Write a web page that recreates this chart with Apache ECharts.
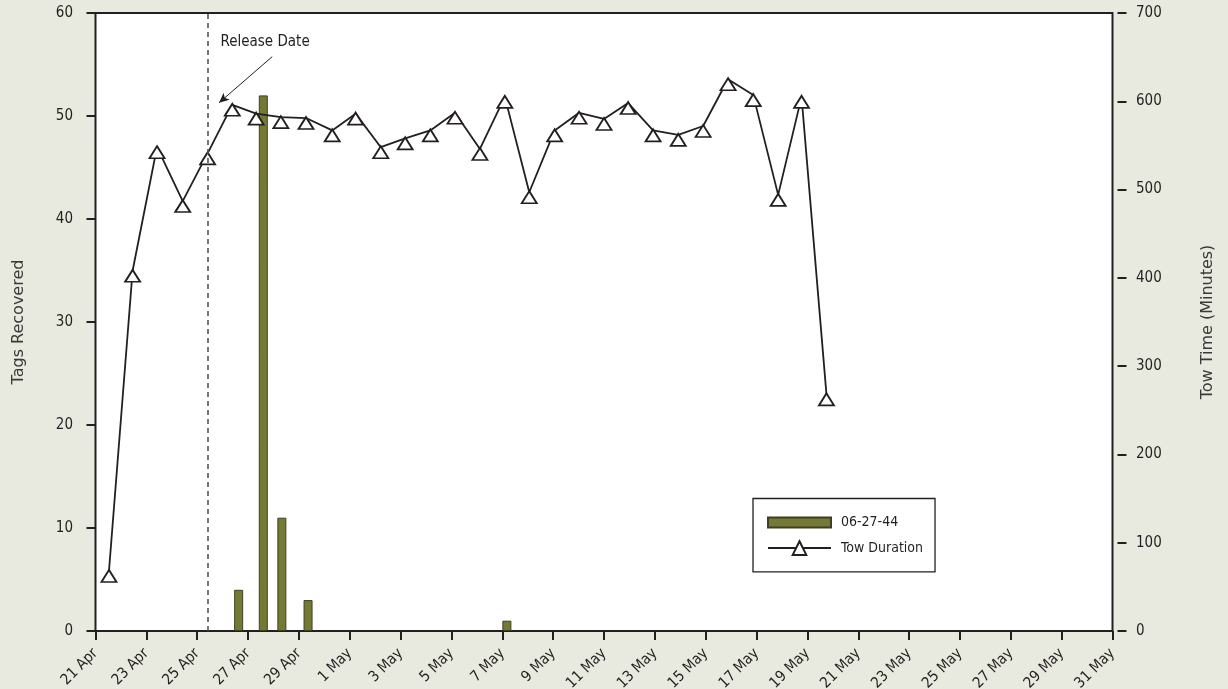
<!DOCTYPE html>
<html>
<head>
<meta charset="utf-8">
<script src="https://cdn.jsdelivr.net/npm/echarts@6/dist/echarts.min.js"></script>
<style>
html,body{margin:0;padding:0;background:#e9eadf;}
#chart{width:1228px;height:689px;}
</style>
</head>
<body>
<div id="chart"></div>
<script>
// x positions are days after 21 Apr
const tickLabels = ["21 Apr","23 Apr","25 Apr","27 Apr","29 Apr","1 May","3 May","5 May","7 May","9 May","11 May","13 May","15 May","17 May","19 May","21 May","23 May","25 May","27 May","29 May","31 May"];
const barDays = [5.63, 6.60, 7.33, 8.36, 16.18];
const barTags = [4, 52, 11, 3, 1];
const towDays = [0.53,1.46,2.42,3.43,4.41,5.38,6.32,7.29,8.28,9.31,10.23,11.22,12.18,13.17,14.14,15.12,16.10,17.06,18.06,19.02,20.00,20.95,21.93,22.92,23.90,24.88,25.87,26.85,27.77,28.75];
const towMinutes = [68,408,548,487,541,596,586,582,581,567,586,548,558,567,587,546,605,497,567,587,580,598,567,562,572,625,607,494,605,268];
const releaseDay = 4.41;
const seriesNames = ["06-27-44", "Tow Duration"];

const condensed = "'Liberation Sans Narrow','Arial Narrow','DejaVu Sans Condensed',sans-serif";
const ink = '#231f20';

const chart = echarts.init(document.getElementById('chart'));
chart.setOption({
  animation: false,
  backgroundColor: '#e9eadf',
  grid: {
    left: 95.5, right: 115.5, top: 13, bottom: 58,
    containLabel: false, outerBoundsMode: 'none',
    show: true, backgroundColor: '#ffffff', borderColor: ink, borderWidth: 2
  },
  legend: {
    left: 753, top: 498.5,
    orient: 'vertical',
    backgroundColor: '#ffffff',
    borderColor: ink, borderWidth: 1.3,
    padding: [17, 12, 16, 14],
    itemWidth: 63, itemHeight: 17, itemGap: 10.8,
    textStyle: { fontFamily: condensed, fontSize: 14, color: ink, padding: [0,0,0,5] },
    data: [
      { name: seriesNames[0], icon: 'path://M0,0H63V10H0Z' },
      { name: seriesNames[1] }
    ]
  },
  xAxis: {
    type: 'value', min: 0, max: 40, interval: 2,
    offset: 5,
    axisLine: { show: false },
    axisTick: { show: true, length: 9, lineStyle: { color: ink, width: 2 } },
    splitLine: { show: false },
    axisLabel: {
      rotate: 45, margin: 15,
      fontFamily: condensed, fontSize: 15, color: ink,
      formatter: v => tickLabels[Math.round(v / 2)]
    }
  },
  yAxis: [
    {
      type: 'value', min: 0, max: 60, interval: 10,
      offset: 5, position: 'left',
      name: 'Tags Recovered', nameLocation: 'middle', nameRotate: 90, nameGap: 64,
      nameTextStyle: { fontFamily: "'DejaVu Sans',sans-serif", fontSize: 16, color: '#3a3a3a' },
      axisLine: { show: false },
      axisTick: { show: true, length: 9, lineStyle: { color: ink, width: 2 } },
      splitLine: { show: false },
      axisLabel: { margin: 17.5, fontFamily: condensed, fontSize: 15, color: ink }
    },
    {
      type: 'value', min: 0, max: 700, interval: 100,
      offset: 5, position: 'right',
      name: 'Tow Time (Minutes)', nameLocation: 'middle', nameRotate: 90, nameGap: 82,
      nameTextStyle: { fontFamily: "'DejaVu Sans',sans-serif", fontSize: 16, color: '#3a3a3a' },
      axisLine: { show: false },
      axisTick: { show: true, length: 9, lineStyle: { color: ink, width: 2 } },
      splitLine: { show: false },
      axisLabel: { margin: 18.5, fontFamily: condensed, fontSize: 15, color: ink }
    }
  ],
  series: [
    {
      name: seriesNames[0],
      type: 'bar',
      yAxisIndex: 0,
      barWidth: 9,
      data: barDays.map((d, i) => [d, barTags[i]]),
      itemStyle: { color: '#747a34', borderColor: '#3e3f22', borderWidth: 1 },
      markLine: {
        silent: true,
        animation: false,
        symbol: ['none', 'none'],
        data: [
          { xAxis: releaseDay,
            lineStyle: { type: [5, 4], color: '#555555', width: 1.6 }, label: { show: false } },
          [
            { coord: [6.95, 55.76], symbol: 'none' },
            { coord: [4.86, 51.29], symbol: 'arrow', symbolSize: [7, 10] }
          ]
        ],
        lineStyle: { type: 'solid', color: ink, width: 1 },
        label: { show: false }
      },
      markPoint: {
        silent: true,
        data: [{
          coord: [6.67, 57.2], symbol: 'rect', symbolSize: 1,
          itemStyle: { color: 'rgba(0,0,0,0)' },
          label: { show: true, position: 'inside', formatter: 'Release Date',
                   fontFamily: condensed, fontSize: 15, color: ink }
        }]
      }
    },
    {
      name: seriesNames[1],
      type: 'line',
      yAxisIndex: 1,
      data: towDays.map((d, i) => [d, towMinutes[i]]),
      symbol: 'triangle',
      symbolSize: [15, 12],
      symbolOffset: [0, 5],
      showAllSymbol: true,
      color: ink,
      lineStyle: { color: ink, width: 1.8 },
      itemStyle: { color: '#ffffff', borderColor: ink, borderWidth: 1.8 },
      z: 3
    }
  ]
});
</script>
</body>
</html>
